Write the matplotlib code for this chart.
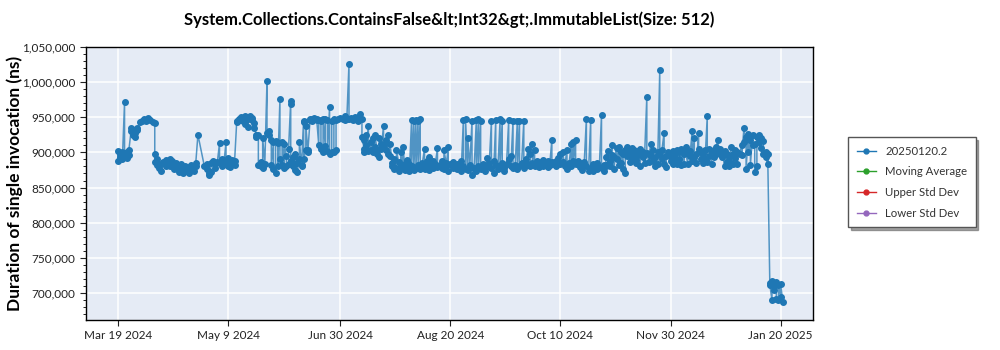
import pandas as pd
import matplotlib.pyplot as plt
import matplotlib.ticker as mticker
import matplotlib.dates as mdates
from matplotlib.lines import Line2D

plt.rcParams['font.family'] = ['Lato', 'DejaVu Sans']

titulo = "System.Collections.ContainsFalse&lt;Int32&gt;.ImmutableList(Size: 512)"
serie = "20250120.2"

# datas das execuções e duração (em milhares de ns) de cada execução no dia
dias = [
    "2024-03-19", "2024-03-20", "2024-03-21", "2024-03-22", "2024-03-23", "2024-03-24", "2024-03-25",
    "2024-03-26", "2024-03-27", "2024-03-28", "2024-03-29", "2024-03-30", "2024-03-31",
    "2024-04-01", "2024-04-02", "2024-04-03", "2024-04-04", "2024-04-05", "2024-04-06", "2024-04-07",
    "2024-04-08", "2024-04-09", "2024-04-10", "2024-04-11", "2024-04-12", "2024-04-13", "2024-04-14",
    "2024-04-15", "2024-04-16", "2024-04-17", "2024-04-18", "2024-04-19", "2024-04-20", "2024-04-21",
    "2024-04-22", "2024-04-23", "2024-04-24", "2024-04-25", "2024-04-28", "2024-04-29", "2024-04-30",
    "2024-05-01", "2024-05-02", "2024-05-03", "2024-05-04", "2024-05-05", "2024-05-06", "2024-05-07",
    "2024-05-08", "2024-05-09", "2024-05-10", "2024-05-11", "2024-05-12", "2024-05-13", "2024-05-14",
    "2024-05-15", "2024-05-16", "2024-05-17", "2024-05-18", "2024-05-19", "2024-05-20", "2024-05-21",
    "2024-05-22", "2024-05-23", "2024-05-24", "2024-05-25", "2024-05-26", "2024-05-27", "2024-05-28",
    "2024-05-29", "2024-05-30", "2024-05-31",
    "2024-06-01", "2024-06-02", "2024-06-03", "2024-06-04", "2024-06-05", "2024-06-06", "2024-06-07",
    "2024-06-08", "2024-06-09", "2024-06-10", "2024-06-11", "2024-06-12", "2024-06-13", "2024-06-14",
    "2024-06-15", "2024-06-16", "2024-06-17", "2024-06-18", "2024-06-19", "2024-06-20", "2024-06-21",
    "2024-06-22", "2024-06-23", "2024-06-24", "2024-06-25", "2024-06-26", "2024-06-27", "2024-06-28",
    "2024-06-29", "2024-06-30",
    "2024-07-01", "2024-07-02", "2024-07-03", "2024-07-04", "2024-07-05", "2024-07-06", "2024-07-07",
    "2024-07-08", "2024-07-09", "2024-07-10", "2024-07-11", "2024-07-12", "2024-07-13", "2024-07-14",
    "2024-07-15", "2024-07-16", "2024-07-17", "2024-07-18", "2024-07-19", "2024-07-20", "2024-07-21",
    "2024-07-22", "2024-07-23", "2024-07-24", "2024-07-25", "2024-07-26", "2024-07-27", "2024-07-28",
    "2024-07-29", "2024-07-30", "2024-07-31",
    "2024-08-01", "2024-08-02", "2024-08-03", "2024-08-04", "2024-08-05", "2024-08-06", "2024-08-07",
    "2024-08-08", "2024-08-09", "2024-08-10", "2024-08-11", "2024-08-12", "2024-08-13", "2024-08-14",
    "2024-08-15", "2024-08-16", "2024-08-17", "2024-08-18", "2024-08-19", "2024-08-20", "2024-08-21",
    "2024-08-22", "2024-08-23", "2024-08-24", "2024-08-25", "2024-08-26", "2024-08-27", "2024-08-28",
    "2024-08-29", "2024-08-30", "2024-08-31",
    "2024-09-01", "2024-09-02", "2024-09-03", "2024-09-04", "2024-09-05", "2024-09-06", "2024-09-07",
    "2024-09-08", "2024-09-09", "2024-09-10", "2024-09-11", "2024-09-12", "2024-09-13", "2024-09-14",
    "2024-09-15", "2024-09-16", "2024-09-17", "2024-09-18", "2024-09-19", "2024-09-20", "2024-09-21",
    "2024-09-22", "2024-09-23", "2024-09-24", "2024-09-25", "2024-09-26", "2024-09-27", "2024-09-28",
    "2024-09-29", "2024-09-30",
    "2024-10-01", "2024-10-02", "2024-10-03", "2024-10-04", "2024-10-05", "2024-10-06", "2024-10-07",
    "2024-10-08", "2024-10-09", "2024-10-10", "2024-10-11", "2024-10-12", "2024-10-13", "2024-10-14",
    "2024-10-15", "2024-10-16", "2024-10-17", "2024-10-18", "2024-10-19", "2024-10-20", "2024-10-21",
    "2024-10-22", "2024-10-23", "2024-10-24", "2024-10-25", "2024-10-26", "2024-10-27", "2024-10-28",
    "2024-10-29", "2024-10-30", "2024-10-31",
    "2024-11-01", "2024-11-02", "2024-11-03", "2024-11-04", "2024-11-05", "2024-11-06", "2024-11-07",
    "2024-11-08", "2024-11-09", "2024-11-10", "2024-11-11", "2024-11-12", "2024-11-13", "2024-11-14",
    "2024-11-15", "2024-11-16", "2024-11-17", "2024-11-18", "2024-11-19", "2024-11-20", "2024-11-21",
    "2024-11-22", "2024-11-23", "2024-11-24", "2024-11-25", "2024-11-26", "2024-11-27", "2024-11-28",
    "2024-11-29", "2024-11-30",
    "2024-12-01", "2024-12-02", "2024-12-03", "2024-12-04", "2024-12-05", "2024-12-06", "2024-12-07",
    "2024-12-08", "2024-12-09", "2024-12-10", "2024-12-11", "2024-12-12", "2024-12-13", "2024-12-14",
    "2024-12-15", "2024-12-16", "2024-12-17", "2024-12-18", "2024-12-19", "2024-12-20", "2024-12-21",
    "2024-12-22", "2024-12-23", "2024-12-24", "2024-12-25", "2024-12-26", "2024-12-27", "2024-12-28",
    "2024-12-29", "2024-12-30", "2024-12-31",
    "2025-01-01", "2025-01-02", "2025-01-03", "2025-01-04", "2025-01-05", "2025-01-06", "2025-01-07",
    "2025-01-08", "2025-01-09", "2025-01-10", "2025-01-11", "2025-01-12", "2025-01-13", "2025-01-14",
    "2025-01-15", "2025-01-16", "2025-01-17", "2025-01-18", "2025-01-19", "2025-01-20", "2025-01-21",
]

duracao_k = [
    # março
    [887, 902], [893, 898], [900, 890], [971, 896], [901, 892], [896, 903], [930, 935],
    [925, 932], [928, 922], [935, 931], [943], [945], [947],
    # abril
    [944], [949], [946], [943], [942, 898, 886], [890, 882], [878],
    [873, 884], [886], [881, 889], [884], [891, 880], [887], [882, 876],
    [885], [879, 872], [884], [876, 870], [881], [874, 879], [871],
    [878, 882], [873], [880, 885], [925], [880], [884, 876], [870, 868],
    # maio
    [872, 885], [888], [878, 884], [886], [913, 885], [881, 890], [883],
    [914, 887], [881, 892], [886, 879], [889], [882, 888], [945, 943], [948],
    [950, 946], [944], [952, 940], [947, 936], [951], [949, 946], [935, 941],
    [925, 922], [924, 882], [880, 886], [878, 920], [884], [1001, 928], [925, 930],
    [918, 882], [914, 876], [871, 916],
    # junho
    [913, 880], [975, 890], [882, 915], [878, 912], [895, 880], [884, 905], [973, 968, 888],
    [880, 893], [875, 898], [885, 872], [891, 915], [880, 882], [945, 943, 890], [903, 938],
    [900, 904], [946, 948], [947, 945], [949, 947], [946, 948], [910, 946], [945, 905],
    [900, 947], [909, 948], [946, 902], [964, 898], [901, 945], [948, 900], [903, 946],
    [947], [949],
    # julho
    [948], [946, 951], [948], [1026, 947], [949], [946], [950],
    [945, 948], [955], [948, 922], [905, 918, 900], [925, 910], [938, 902], [915, 904],
    [920, 900], [908, 925], [903, 897], [893, 920], [912, 905], [938, 910], [903, 918],
    [924, 897], [895, 912], [885, 880], [876, 890], [878, 903], [886, 874], [882, 900],
    [879, 908], [875, 884], [889, 877],
    # agosto
    [883, 874], [946, 880], [944, 875], [946, 878], [945, 882], [947, 876], [880, 885],
    [905, 877], [883, 887], [875, 893], [880], [887, 878], [884], [906, 879],
    [882], [878, 888], [876, 903], [885, 880], [907, 874], [883], [878, 886],
    [881], [876, 884], [879], [887, 874], [946, 880], [877, 947], [875, 920],
    [882], [945, 868], [878],
    # setembro
    [946, 874], [948, 880], [945, 876], [883], [878, 874], [892, 880], [885],
    [945, 878], [887, 870], [946, 882], [876], [947, 880], [945, 885], [878, 873],
    [884], [946, 890], [895, 880], [945, 878], [882], [944, 876], [945, 880],
    [885], [944, 878], [882, 890], [905, 884], [880, 898], [912, 885], [903, 880],
    [887], [883, 879],
    # outubro
    [886], [881, 889], [884], [879, 887], [882], [918, 886], [884],
    [888, 880], [892], [898, 883], [886, 900], [881], [904, 877], [885],
    [912, 880], [914, 887], [917, 884], [888], [879, 885], [875], [882, 886],
    [948, 880], [874], [946, 878], [884, 873], [880], [876, 885], [879],
    [953, 878], [882, 874], [880, 894],
    # novembro
    [902, 884], [887, 880], [910, 896], [877, 893], [906, 890], [908, 882], [900, 885],
    [898, 876], [871, 903], [895, 907], [886, 900], [906, 892], [898, 903], [889, 885],
    [902, 896], [880, 905], [894, 900], [885, 898], [979, 899], [886, 898], [912, 895],
    [903, 888], [893, 880], [900, 883], [1017, 896], [890, 903], [928, 884], [879, 895],
    [900], [894, 887],
    # dezembro
    [902, 883], [898, 890], [884, 903], [901, 890], [905, 882], [897, 884], [908, 900],
    [883, 899], [902, 895], [930, 887], [921, 894], [898, 885], [928, 905], [890, 900],
    [885, 898], [903, 890], [951, 886], [895, 905], [884, 902], [903, 893], [898, 908],
    [917, 902], [898, 905], [893, 900], [880, 902], [886, 898], [894, 881], [907, 885],
    [898, 883], [903, 892], [884, 900],
    # janeiro
    [898], [910, 896], [934, 915], [922, 876], [926, 900], [918, 882], [925, 910],
    [912, 872], [880, 922], [924, 915], [906, 920], [916, 898], [900, 893], [883, 898],
    [715, 712], [690, 717], [710, 705], [716, 692], [690, 712], [695, 713], [688],
]

ticks_x = ["2024-03-19", "2024-05-09", "2024-06-30", "2024-08-20", "2024-10-10", "2024-11-30", "2025-01-20"]

legenda = [serie, "Moving Average", "Upper Std Dev", "Lower Std Dev"]
cores = ["#1f77b4", "#2ca02c", "#d62728", "#9467bd"]


def run():
    linhas = []
    for d, vs in zip(dias, duracao_k):
        for v in vs:
            linhas.append((pd.Timestamp(d), v * 1000))
    df = pd.DataFrame(linhas, columns=["data", "ns"])

    fig = plt.figure(figsize=(10, 3.5), dpi=100)
    ax = fig.add_axes([0.0857, 0.0857, 0.7273, 0.781])
    ax.set_facecolor("#e5ebf5")

    # linha mais clara e marcadores cheios por cima
    ax.plot(df["data"], df["ns"], color="#1f77b4", lw=1.1, alpha=0.75, zorder=3)
    ax.plot(df["data"], df["ns"], ls="none", marker="o", ms=4, color="#1f77b4", zorder=4)

    ax.set_xlim(pd.Timestamp("2024-03-04"), pd.Timestamp("2025-02-04"))
    ax.set_ylim(662000, 1050000)
    ax.set_xticks([pd.Timestamp(t) for t in ticks_x])
    ax.xaxis.set_major_formatter(mdates.DateFormatter("%b %-d %Y"))
    ax.yaxis.set_major_locator(mticker.MultipleLocator(50000))
    ax.yaxis.set_minor_locator(mticker.MultipleLocator(10000))
    ax.yaxis.set_major_formatter(mticker.StrMethodFormatter("{x:,.0f}"))

    ax.grid(True, which="major", color="white", lw=1.1)
    ax.set_axisbelow(True)
    ax.tick_params(axis="both", labelsize=8.5, colors="#222222", length=4)
    ax.tick_params(axis="y", which="minor", length=2)
    for s in ax.spines.values():
        s.set_color("black")
        s.set_linewidth(1)

    # rótulo do eixo y posicionado na figura para não cortar
    fig.text(0.015, 0.477, "Duration of single invocation (ns)", rotation=90,
             ha="center", va="center", fontsize=12.5, fontweight="bold")
    fig.text(0.449, 0.945, titulo, ha="center", va="center", fontsize=12, fontweight="bold")

    handles = [Line2D([], [], color=c, marker="o", ms=3.5, lw=1) for c in cores]
    leg = fig.legend(handles, legenda, loc="upper left", bbox_to_anchor=(0.848, 0.608),
                     borderaxespad=0, fontsize=8.2, frameon=True, fancybox=False, shadow=True,
                     edgecolor="#555555", handlelength=1.7, borderpad=0.75, labelspacing=0.85)
    leg.get_frame().set_linewidth(1)
    for t in leg.get_texts():
        t.set_color("#333333")

    fig.savefig("out.png", dpi=100)
    plt.close(fig)


if __name__ == "__main__":
    run()
